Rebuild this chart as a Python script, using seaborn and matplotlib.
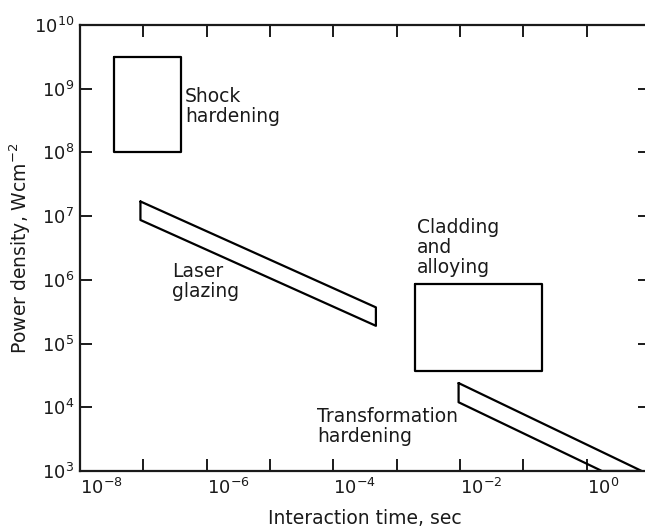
import numpy as np
import matplotlib
matplotlib.use("Agg")
import matplotlib.pyplot as plt
import seaborn as sns

# region outlines (interaction time in s, power density in W/cm^2)
shock_x = [3.5e-8, 3.9e-7, 3.9e-7, 3.5e-8, 3.5e-8]
shock_y = [3.2e9, 3.2e9, 1e8, 1e8, 3.2e9]

glazing_x = [9e-8, 4.7e-4, 4.7e-4, 9e-8, 9e-8]
glazing_y = [1.7e7, 3.7e5, 1.9e5, 8.7e6, 1.7e7]

cladding_x = [1.95e-3, 0.2, 0.2, 1.95e-3, 1.95e-3]
cladding_y = [8.5e5, 8.5e5, 3.7e4, 3.7e4, 8.5e5]

transform_x = [9.5e-3, 7.4, 1.74, 9.5e-3, 9.5e-3]
transform_y = [2.4e4, 1e3, 1e3, 1.2e4, 2.4e4]

# region labels
region_labels = ["Shock\nhardening", "Laser\nglazing", "Cladding\nand\nalloying",
                 "Transformation\nhardening"]
label_x = [10**-6.34, 10**-6.55, 10**-2.68, 10**-4.26]
label_y = [10**8.72, 10**5.98, 10**6.51, 10**3.70]

x_decades = list(range(-8, 2))
y_decades = list(range(3, 11))

sns.set_style("ticks")
plt.rcParams["font.family"] = ["DejaVu Sans"]

fig = plt.figure(figsize=(6.45, 5.31), dpi=100)
ax = fig.add_axes([80 / 645, 60 / 531, 570 / 645, 446 / 531])

for xs, ys in [(shock_x, shock_y), (glazing_x, glazing_y),
               (cladding_x, cladding_y), (transform_x, transform_y)]:
    sns.lineplot(x=xs, y=ys, sort=False, estimator=None, color="black",
                 linewidth=1.6, ax=ax)
for line in ax.lines:
    line.set_solid_joinstyle("round")

for txt, tx, ty in zip(region_labels, label_x, label_y):
    ax.text(tx, ty, txt, ha="left", va="center", fontsize=13.5,
            color="#1a1a1a", linespacing=1.05)

ax.set_xscale("log")
ax.set_yscale("log")
ax.set_xlim(1e-8, 1e1)
ax.set_ylim(1e3, 1e10)

ax.set_xticks([10.0**d for d in x_decades])
ax.set_xticklabels([f"$10^{{{d}}}$" if d % 2 == 0 and d <= 0 else "" for d in x_decades],
                   ha="left")
ax.set_yticks([10.0**d for d in y_decades])
ax.set_yticklabels([f"$10^{{{d}}}$" for d in y_decades])
ax.xaxis.set_minor_locator(matplotlib.ticker.NullLocator())
ax.yaxis.set_minor_locator(matplotlib.ticker.NullLocator())

ax.tick_params(which="major", direction="in", length=8.5, width=1.4,
               top=True, right=True, labelsize=13, color="#1a1a1a", labelcolor="#1a1a1a")
ax.tick_params(axis="x", pad=5)
ax.tick_params(axis="y", pad=4)
for s in ax.spines.values():
    s.set_linewidth(1.6)
    s.set_color("#1a1a1a")

ax.set_xlabel("Interaction time, sec", fontsize=13.5, color="#1a1a1a", labelpad=8)
ax.set_ylabel("Power density, Wcm$^{-2}$", fontsize=13.5, color="#1a1a1a", labelpad=1)

fig.savefig("out.png", dpi=100)
